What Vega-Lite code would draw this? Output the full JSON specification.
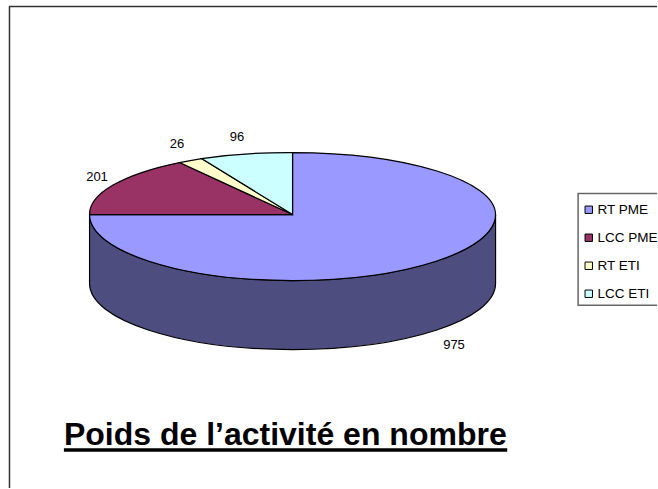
{
  "$schema": "https://vega.github.io/schema/vega-lite/v6.json",
  "autosize": {"type": "fit", "contains": "padding"},
  "width": 658,
  "height": 489,
  "padding": 0,
  "background": "white",
  "view": {"stroke": null},
  "datasets": {
    "slices": [
      {"slice": "RT PME", "rank": "1", "value": 975},
      {"slice": "LCC PME", "rank": "2", "value": 201},
      {"slice": "RT ETI", "rank": "3", "value": 26},
      {"slice": "LCC ETI", "rank": "4", "value": 96}
    ],
    "heading": [{"text": "Poids de l’activité en nombre"}]
  },
  "layer": [
    {
      "data": {"name": "heading"},
      "mark": {"type": "rect", "fill": "white", "stroke": "#666666", "strokeWidth": 1.5, "clip": true},
      "encoding": {
        "x": {"datum": 579, "type": "quantitative", "scale": {"domain": [0, 658]}, "axis": null},
        "x2": {"datum": 700},
        "y": {"datum": 194, "type": "quantitative", "scale": {"domain": [489, 0]}, "axis": null},
        "y2": {"datum": 306}
      }
    },
    {
      "data": {"name": "slices"},
      "transform": [{"filter": "datum.slice === 'RT PME'"}],
      "mark": {"type": "point", "filled": true, "size": 4, "opacity": 1, "fill": "#4d4d80", "stroke": "black", "strokeWidth": 1.2, "shape": "M-203,0 A203,66 0 0 0 203,0 L203,69 A203,66 0 0 1 -203,69 Z"},
      "encoding": {
        "x": {"datum": 0, "type": "quantitative", "scale": {"domain": [-293, 365]}, "axis": null},
        "y": {"datum": 0, "type": "quantitative", "scale": {"domain": [274, -215]}, "axis": null}
      }
    },
    {
      "data": {"name": "slices"},
      "mark": {"type": "point", "filled": true, "size": 4, "opacity": 1, "stroke": "black", "strokeWidth": 1.2},
      "encoding": {
        "x": {"datum": 0, "type": "quantitative", "scale": {"domain": [-293, 365]}, "axis": null},
        "y": {"datum": 0, "type": "quantitative", "scale": {"domain": [274, -215]}, "axis": null},
        "color": {
          "field": "slice",
          "type": "nominal",
          "scale": {"domain": ["RT PME", "LCC PME", "RT ETI", "LCC ETI"], "range": ["#9999ff", "#993366", "#ffffcc", "#ccffff"]},
          "legend": {
            "title": null,
            "orient": "none",
            "legendX": 579,
            "legendY": 200,
            "symbolType": "square",
            "symbolSize": 55,
            "symbolStrokeColor": "black",
            "symbolStrokeWidth": 1,
            "symbolOpacity": 1,
            "labelFont": "Liberation Sans",
            "labelFontSize": 13.5,
            "labelColor": "black",
            "labelOffset": 2,
            "rowPadding": 13,
            "padding": 3
          }
        },
        "shape": {
          "field": "rank",
          "type": "nominal",
          "scale": {
            "domain": ["1", "2", "3", "4"],
            "range": [
              "M0,0 L0,-62 A203,62 0 0 1 203,0 A203,66 0 0 1 0,66 A203,66 0 0 1 -203,0 Z",
              "M0,0 L-203,0 A203,62 0 0 1 -113,-52 Z",
              "M0,0 L-113,-52 A203,62 0 0 1 -91,-56 Z",
              "M0,0 L-91,-56 A203,62 0 0 1 0,-62 Z"
            ]
          },
          "legend": null
        }
      }
    },
    {
      "data": {"name": "slices"},
      "mark": {"type": "text", "font": "Liberation Sans", "fontSize": 13, "color": "black", "align": "center", "baseline": "middle"},
      "encoding": {
        "x": {"field": "value", "type": "quantitative", "scale": {"domain": [26, 96, 201, 975], "range": [177, 237, 97, 454]}, "axis": null},
        "y": {"field": "value", "type": "quantitative", "scale": {"domain": [26, 96, 201, 975], "range": [144, 137, 177, 345]}, "axis": null},
        "text": {"field": "value", "type": "quantitative"}
      }
    },
    {
      "data": {"name": "heading"},
      "mark": {"type": "text", "font": "Liberation Sans", "fontSize": 32, "fontWeight": "bold", "color": "black", "align": "left", "baseline": "alphabetic"},
      "encoding": {
        "x": {"datum": 64, "type": "quantitative", "scale": {"domain": [0, 658]}, "axis": null},
        "y": {"datum": 446, "type": "quantitative", "scale": {"domain": [489, 0]}, "axis": null},
        "text": {"field": "text", "type": "nominal"}
      }
    },
    {
      "data": {"name": "heading"},
      "mark": {"type": "rule", "color": "black", "strokeWidth": 3.5},
      "encoding": {
        "x": {"datum": 64, "type": "quantitative", "scale": {"domain": [0, 658]}, "axis": null},
        "x2": {"datum": 508},
        "y": {"datum": 451, "type": "quantitative", "scale": {"domain": [489, 0]}, "axis": null}
      }
    },
    {
      "data": {"name": "heading"},
      "mark": {"type": "rule", "color": "#333333", "strokeWidth": 1.5},
      "encoding": {
        "x": {"datum": 9.5, "type": "quantitative", "scale": {"domain": [0, 658]}, "axis": null},
        "y": {"datum": 6.5, "type": "quantitative", "scale": {"domain": [489, 0]}, "axis": null},
        "y2": {"datum": 489}
      }
    },
    {
      "data": {"name": "heading"},
      "mark": {"type": "rule", "color": "#333333", "strokeWidth": 1.5},
      "encoding": {
        "x": {"datum": 9, "type": "quantitative", "scale": {"domain": [0, 658]}, "axis": null},
        "x2": {"datum": 658},
        "y": {"datum": 6.5, "type": "quantitative", "scale": {"domain": [489, 0]}, "axis": null}
      }
    }
  ],
  "resolve": {"scale": {"x": "independent", "y": "independent"}}
}
